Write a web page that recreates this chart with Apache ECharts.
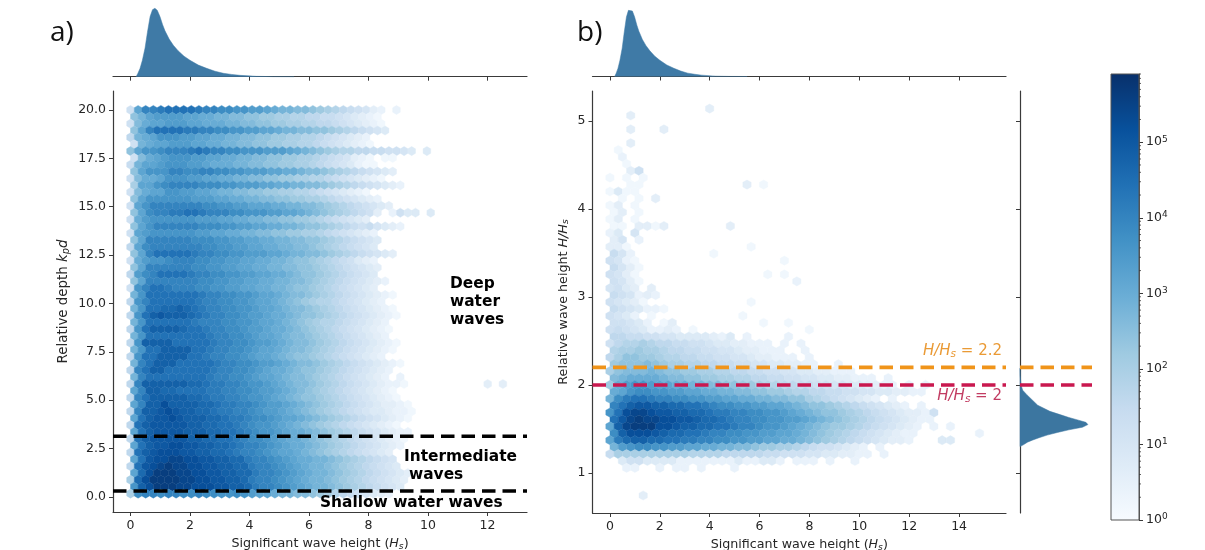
<!DOCTYPE html>
<html>
<head>
<meta charset="utf-8">
<style>html,body{margin:0;padding:0;background:#fff}#chart{width:1205px;height:550px}</style>
<script src="https://cdn.jsdelivr.net/npm/echarts@6/dist/echarts.min.js"></script>
</head>
<body>
<div id="chart"></div>
<script>
// Hexbin rows, top row first. Each character is one cell: '.' is empty, otherwise
// a base-32 digit d meaning log10(count) = d * 0.2. Odd rows sit half a cell to the right.
const depthRows = [
"6gkklmmmmlkkjjiihhgfeeddcba9876532.2",
"ceghhhhggffeeddccbbaa998877654321",
"6dfgghhhggfffeeddccbbaa99887654321",
"cgkmmmmllkkjjiihhggfeeddccba987654",
"8efgiiihhggffeeddccbbaa998765432",
"6efgghhhggffeeddccbbaa9987654321",
"cgiijkkklmlkkjjiiihhhgfedcba9988776654.4",
"6dfghiiihhggffeeddccbbaa98765321.11",
"7egghiiihhgfffeeddccbbaa987654211",
"cgiiikkjjkkjjiihhhggffeddcba9876543",
"6dffgiiihhggffeeddccbbaa9987654321",
"aggijkkkkjjjiihhhggffeeddcba98765432",
"6dfggiihhggfeeddccbbaa9987654321",
"cgiiiiiihhhggffeeddccbbaa98765432",
"6gikkkkkkkjjiihhgggffeeddcba9876543",
"cgjkkllmmlkkkjjiiihhggfedcba98763.2644.4",
"6fhiiiiiihhhggffeeddccbba9876543",
"cgikkkkkkjjjiihhggffeedccba987675432",
"6ghiiiiiihhggffeeddccbbaa98765432",
"cgkkkkkkjjjiihhggffeeddccba987654",
"8gjkkkkkkkjjiihhggffeeddcba987654",
"cgkmmmmmlkkjjiihhhggfeeddcba9876543",
"6fhiijkkkjjiihhggffeedccba9876432",
"cgkkkkkkjjiihhggffeeddccba9876543",
"8hjkmmmmlkkjjiihhggffedccba987654",
"cgkkkkkkkjjiihhggffeeddcba98765432",
"6ikmmlkkkjjiihhggffeedccba9876543",
"eimmmmmmmlkkjjiihggfeddcba987654321",
"8ikmmmmmmlkkjjiihggfedcba998765432",
"eimmnnonmlkkjjiihggfeddcba987654321",
"8imopooonmlkkjjihhgffedccba987654321",
"eimmmmmmlkkkjjiihggfedcba998765432",
"8imoooonmmlkkjjihhgffedcba987654321",
"eimmmmmmmmlkkjjihggfeddcba98765432",
"8ioooommmmmlkkjjihhgfeddcba987654321",
"eimmoooommlkkjjihggfeddcba987654321",
"8immoooommlkkjjihggfedccba98765432",
"ekmooommmmmlkkjjihhgfeddcba987654321",
"8kmoommmmmmlkkjjihgffedccba98765432",
"ekmmmmmmmmlkkjjihggfeddcba98765432.2",
"8koooooonnmllkkjiihgfeddcba9876543221..........3.3",
"gkoonnmmmmllkkjjihhgfedcba987654321",
"8kmooooonnmllkkjiihgfedccba987654321",
"gkooqoooonnmllkkjihhgfedcba9876543321",
"8koopqpoonnmllkkjihhgfedcba98765443221",
"gmoppqpooonnmllkjjihggfedcba987654321",
"8mopppppoonnmmlkjiihgfedcba987654321",
"gmoppppooonnmmlkjiihgffedcba987654322",
"8mopppppoonnmmlkjjihgffedcba987654321",
"gmoppqqppoonnmlkkjihgffedcba98765432",
"8mopqqqppoonnmlkkjihggfedcba9876543",
"gmpqqrrqqppoonnlkkjihgffeedcba98765",
"8mpqrsrrqqppoonnlkkjihgfeedcba987654",
"gnqsssrrqqppoonnlkkjihgfeedcba9876543",
"anqssssrrqqppoonlkkjihgfeedcba9876543",
"ioqsssrrqqqppoonlkkjihgfeedcba987654",
"ajkkjkkjjkjjiijihggfeeddcba98765432"
];
const ratioRows = [
"............3",
"..3",
"",
"..3...3",
"",
"..3",
".1",
".2",
"..1",
"..36",
"1.1.1",
"..11............3.1",
"1411",
".1.1.3",
"13.1",
"13.1",
"13.1",
"11.3313.......3",
"24.5",
"35.2",
"331..............1",
"752.........1",
"6521.................1",
"7531",
"6531...............1.1",
"6531..................2",
"5643.3",
"765232",
"65431............1",
"7654221",
"6542.1..........1",
"66542.13..........1..1",
"676542232.1.............1",
"887766554444324.2....2",
"6899a988776654433222.2.2",
"9aabaa988776655433222..2",
"8accbba9988776655433222.2",
"bcccdcbaa9988776655443322..2",
"acdddedccbbaa99887766554433222",
"deffffeddccbbaa99887766554433222.2",
"bfhiihggffeeddccbba9988776655443322.2.2",
"fgijjiihhggffeeddccbba9988776655443322",
"ejlmmlkkjjiihhggffeeddcca98765432.2",
"kmoppoonnmmlkjjiihhggfedccba98765432.2",
"imqrrqppoonnmllkkjjiihgfedccba9876543326",
"mprsrrqqpponnmlkkjjiihhgfedcba987654322",
"gorsssqqpoonnmmlkkjiihgfedcbba98765432.2.2",
"joqqqponnmmlkkjjiihhggfedcba987654322.......2",
"glnoonnmmllkkjjiihhggffedcba987654332...44",
"ehijjiihhggffeeddcbbaa987665432.2",
"7aaaaaaaaa9999888887766655443322.2",
".46644442222222422442.222.2..2",
"..22..2.22.2...2",
"",
"",
"",
"....3"
];

// Marginal densities of significant wave height and of relative wave height
const hsGrid = [0.19,0.25,0.32,0.4,0.49,0.57,0.66,0.74,0.82,0.9,0.99,1.08,1.16,1.3,1.44,1.6,1.8,2.0,2.28,2.56,2.84,3.12,3.4,3.68,4.24,4.8,5.5];
const hsDensity = [0,0.05,0.12,0.24,0.42,0.65,0.88,0.98,1,0.97,0.88,0.76,0.67,0.55,0.46,0.38,0.3,0.24,0.17,0.122,0.08,0.05,0.033,0.02,0.005,0.001,0];
const ratioGrid = [1.3,1.32,1.35,1.375,1.4,1.43,1.46,1.49,1.52,1.55,1.575,1.6,1.63,1.66,1.7,1.77,1.83,1.89,1.94,2.0,2.11,2.19];
const ratioDensity = [0,0.05,0.11,0.19,0.28,0.4,0.55,0.72,0.92,1,0.97,0.86,0.72,0.6,0.44,0.26,0.18,0.1,0.04,0.015,0.003,0];

// Ticks
const hsTicksA = [0,2,4,6,8,10,12];
const hsTicksB = [0,2,4,6,8,10,12,14];
const depthTicks = [0,2.5,5,7.5,10,12.5,15,17.5,20];
const ratioTicks = [1,2,3,4,5];
const colorExponents = [0,1,2,3,4,5];
const colorMinor = [2,3,4,5,6,7,8,9,20,30,40,50,60,70,80,90,200,300,400,500,600,700,800,900,2e3,3e3,4e3,5e3,6e3,7e3,8e3,9e3,2e4,3e4,4e4,5e4,6e4,7e4,8e4,9e4,2e5,3e5,4e5,5e5,6e5,7e5,8e5];

// Reference lines
const depthLimits = [3.14, 0.31];
const ratioLimits = [{v:2.2,c:'#f0941a'},{v:2,c:'#c9184f'}];

// Colour scale (Blues) over log10 of the count
const blues = ['#f7fbff','#deebf7','#c6dbef','#9ecae1','#6baed6','#4292c6','#2171b5','#08519c','#08306b'];
const LOG_MAX = Math.log10(8e5);
const colorOf = l => echarts.color.lerp(Math.min(1, l / LOG_MAX), blues);

const FONT = '"DejaVu Sans"';
const INK = '#262626';
const AXIS = '#3a3a3a';
const FILL = '#3f7aa6';

// Turn the row strings into hexagon cells on their lattice
function cells(rows, topY, rowStep, cellW) {
  const out = [];
  rows.forEach((row, r) => {
    for (let i = 0; i < row.length; i++) {
      if (row[i] === '.') continue;
      out.push([(i + (r % 2 ? 0.5 : 0)) * cellW, topY - r * rowStep, parseInt(row[i], 32) * 0.2]);
    }
  });
  return out;
}
function hexSeries(data, xi, cellW, cellH) {
  return {
    type: 'custom', xAxisIndex: xi, yAxisIndex: xi, data, silent: true, clip: true,
    progressive: 0, animation: false, z: 2,
    encode: {x: 0, y: 1},
    renderItem(p, api) {
      const c = api.coord([api.value(0), api.value(1)]);
      const s = api.size([cellW, cellH]);
      const w = s[0] / 2, h = s[1] / 3;
      const col = colorOf(api.value(2));
      return {type: 'polygon', shape: {points: [
        [c[0] + w, c[1] - h / 2], [c[0] + w, c[1] + h / 2], [c[0], c[1] + h],
        [c[0] - w, c[1] + h / 2], [c[0] - w, c[1] - h / 2], [c[0], c[1] - h]
      ]}, style: {fill: col, stroke: col, lineWidth: 0.4}};
    }
  };
}
function dashed(xi, y, xmin, xmax, color) {
  return {type: 'line', xAxisIndex: xi, yAxisIndex: xi, silent: true, symbol: 'none', z: 5,
    data: [[xmin, y], [xmax, y]], lineStyle: {color, width: 3.6, type: [13.5, 7]}, animation: false};
}
function axisX(gi, min, max, ticks, withLabels, name) {
  return {
    type: 'value', gridIndex: gi, min, max, splitLine: {show: false},
    axisLine: {show: true, onZero: false, lineStyle: {color: AXIS, width: 1.2}},
    axisTick: {show: true, length: 4, customValues: ticks, lineStyle: {color: AXIS, width: 1}},
    axisLabel: withLabels ? {show: true, customValues: ticks, color: INK, fontFamily: FONT, fontSize: 12.5, margin: 7} : {show: false},
    name: name || '', nameLocation: 'middle', nameGap: 25,
    nameTextStyle: {fontFamily: FONT, fontSize: 12.7, color: INK, rich: mathRich(12.7)}
  };
}
function axisY(gi, min, max, ticks, name, fmt, gap, size) {
  return {
    type: 'value', gridIndex: gi, min, max, splitLine: {show: false},
    axisLine: {show: true, onZero: false, lineStyle: {color: AXIS, width: 1.2}},
    axisTick: {show: true, length: 4, customValues: ticks, lineStyle: {color: AXIS, width: 1}},
    axisLabel: {show: true, customValues: ticks, color: INK, fontFamily: FONT, fontSize: 12.5, margin: 7, formatter: fmt},
    name, nameLocation: 'middle', nameRotate: 90, nameGap: gap,
    nameTextStyle: {fontFamily: FONT, fontSize: size, color: INK, rich: mathRich(size)}
  };
}
function mathRich(size) {
  return {
    t: {fontFamily: FONT, fontSize: size, color: INK},
    i: {fontFamily: FONT, fontSize: size, color: INK, fontStyle: 'italic'},
    s: {fontFamily: FONT, fontSize: size * 0.72, color: INK, fontStyle: 'italic', padding: [5, 0, 0, 0]}
  };
}
function bareX(gi, min, max, ticks) { return axisX(gi, min, max, ticks, false); }
function hiddenAxis(gi, min, max) {
  return {type: 'value', gridIndex: gi, min, max, show: false, splitLine: {show: false}};
}
function panel(left, top, width, height) {
  return {left, top, width, height, outerBoundsMode: 'none', containLabel: false};
}

const aX = [-0.588, 13.33], aY = [-0.775, 20.98];
const bX = [-0.70, 15.88], bY = [0.545, 5.34];
const margMax = 1.06;
const hsLine = hsGrid.map((x, i) => [x, hsDensity[i]]);
const ratioLine = ratioGrid.map((y, i) => [ratioDensity[i], y]);

const richLabel = color => ({
  i: {fontFamily: FONT, fontStyle: 'italic', fontSize: 15, fill: color},
  s: {fontFamily: FONT, fontStyle: 'italic', fontSize: 10.5, fill: color, padding: [6, 0, 0, 0]},
  t: {fontFamily: FONT, fontSize: 15, fill: color}
});

const option = {
  backgroundColor: '#fff',
  animation: false,
  grid: [
    panel(113, 91, 414, 421),
    panel(113, 8.3, 414, 68.4),
    panel(592.5, 91, 413.5, 422),
    panel(592.5, 9, 413.5, 67.5),
    panel(1020, 91, 72, 422),
    panel(1111, 74, 28, 446)
  ],
  xAxis: [
    axisX(0, aX[0], aX[1], hsTicksA, true, '{t|Significant wave height (}{i|H}{s|s}{t|)}'),
    bareX(1, aX[0], aX[1], hsTicksA),
    axisX(2, bX[0], bX[1], hsTicksB, true, '{t|Significant wave height (}{i|H}{s|s}{t|)}'),
    bareX(3, bX[0], bX[1], hsTicksB),
    hiddenAxis(4, 0, margMax),
    hiddenAxis(5, 0, 1)
  ],
  yAxis: [
    axisY(0, aY[0], aY[1], depthTicks, '{t|Relative depth }{i|k}{s|p}{i|d}', v => v.toFixed(1), 42, 13.4),
    hiddenAxis(1, 0, 1),
    axisY(2, bY[0], bY[1], ratioTicks, '{t|Relative wave height }{i|H/H}{s|s}', v => String(v), 22, 12.7),
    hiddenAxis(3, 0, 1),
    {type: 'value', gridIndex: 4, min: bY[0], max: bY[1], splitLine: {show: false},
     axisLine: {show: true, onZero: false, lineStyle: {color: AXIS, width: 1.2}},
     axisTick: {show: true, length: 4, customValues: ratioTicks, lineStyle: {color: AXIS, width: 1}},
     axisLabel: {show: false}},
    {type: 'value', gridIndex: 5, position: 'right', min: 0, max: LOG_MAX, splitLine: {show: false},
     axisLine: {show: true, onZero: false, lineStyle: {color: '#555', width: 1}},
     axisTick: {show: true, length: 4, customValues: colorExponents, lineStyle: {color: AXIS, width: 1}},
     axisLabel: {show: true, customValues: colorExponents, margin: 7, fontFamily: FONT, fontSize: 12.5, color: INK,
       formatter: v => `{b|10}{e|${v}}`,
       rich: {b: {fontFamily: FONT, fontSize: 12.5, color: INK},
              e: {fontFamily: FONT, fontSize: 9, color: INK, padding: [0, 0, 6, 0]}}}}
  ],
  series: [
    hexSeries(cells(depthRows, 20, 0.354, 0.2555), 0, 0.2555, 0.708),
    hexSeries(cells(ratioRows, 5.14, 0.0785, 0.333), 2, 0.333, 0.157),
    ...depthLimits.map(y => dashed(0, y, aX[0], aX[1], '#000')),
    ...ratioLimits.map(l => dashed(2, l.v, bX[0], bX[1], l.c)),
    ...ratioLimits.map(l => dashed(4, l.v, 0, margMax, l.c)),
    {type: 'line', xAxisIndex: 1, yAxisIndex: 1, data: hsLine, symbol: 'none', smooth: false, silent: true, clip: false,
     lineStyle: {color: FILL, width: 0.5}, areaStyle: {color: FILL, opacity: 1}},
    {type: 'line', xAxisIndex: 3, yAxisIndex: 3, data: hsLine, symbol: 'none', smooth: false, silent: true, clip: false,
     lineStyle: {color: FILL, width: 0.5}, areaStyle: {color: FILL, opacity: 1}},
    {type: 'custom', xAxisIndex: 4, yAxisIndex: 4, data: ratioLine, silent: true, z: 3, encode: {x: 0, y: 1},
     renderItem(p, api) {
       if (p.dataIndex !== 0) return null;
       return {type: 'polygon', shape: {points: ratioLine.map(d => api.coord(d))},
               style: {fill: '#3c76a0', stroke: '#3c76a0', lineWidth: 0.5}};
     }},
    // Colour bar: gradient body, border and logarithmic minor ticks
    {type: 'custom', xAxisIndex: 5, yAxisIndex: 5, data: [[0]], silent: true, z: 2,
     renderItem(p, api) {
       const a = api.coord([0, LOG_MAX]), b = api.coord([1, 0]);
       return {type: 'rect', shape: {x: a[0], y: a[1], width: b[0] - a[0], height: b[1] - a[1]},
         style: {stroke: '#555', lineWidth: 1, fill: new echarts.graphic.LinearGradient(0, 1, 0, 0,
           blues.map((color, i) => ({offset: i / (blues.length - 1), color})))}};
     }},
    {type: 'custom', xAxisIndex: 5, yAxisIndex: 5, data: colorMinor.map(v => [1, Math.log10(v)]), silent: true, clip: false, z: 3,
     encode: {x: 0, y: 1},
     renderItem(p, api) {
       const c = api.coord([api.value(0), api.value(1)]);
       return {type: 'line', shape: {x1: c[0], y1: c[1], x2: c[0] + 2, y2: c[1]}, style: {stroke: AXIS, lineWidth: 0.8}};
     }}
  ],
  graphic: [
    {type: 'text', left: 50, top: 19, style: {text: 'a)', fontFamily: '"Open Sans"', fontSize: 28, fill: '#111'}},
    {type: 'text', left: 577, top: 19, style: {text: 'b)', fontFamily: '"Open Sans"', fontSize: 28, fill: '#111'}},
    {type: 'text', left: 450, top: 275, z: 10, style: {text: 'Deep\nwater\nwaves', fontFamily: FONT, fontWeight: 'bold', fontSize: 15.4, lineHeight: 18, fill: '#000'}},
    {type: 'text', left: 404, top: 449, z: 10, style: {text: 'Intermediate', fontFamily: FONT, fontWeight: 'bold', fontSize: 15.4, fill: '#000'}},
    {type: 'text', left: 409, top: 467, z: 10, style: {text: 'waves', fontFamily: FONT, fontWeight: 'bold', fontSize: 15.4, fill: '#000'}},
    {type: 'text', left: 320, top: 495, z: 10, style: {text: 'Shallow water waves', fontFamily: FONT, fontWeight: 'bold', fontSize: 15.4, fill: '#000'}},
    {type: 'text', right: 203, top: 344, z: 10, style: {text: '{i|H/H}{s|s}{t| = 2.2}', rich: richLabel('#ea9a35')}},
    {type: 'text', right: 203, top: 389, z: 10, style: {text: '{i|H/H}{s|s}{t| = 2}', rich: richLabel('#c23c62')}}
  ]
};
echarts.init(document.getElementById('chart'), null, {renderer: 'canvas'}).setOption(option);
</script>
</body>
</html>
